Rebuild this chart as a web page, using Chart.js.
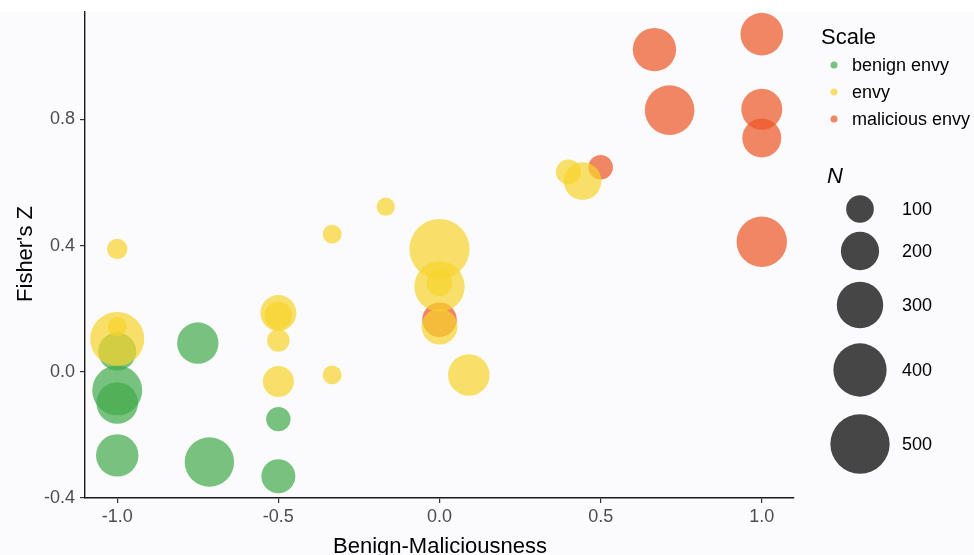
<!DOCTYPE html>
<html>
<head>
<meta charset="utf-8">
<script src="https://cdn.jsdelivr.net/npm/chart.js@4.4.1/dist/chart.umd.min.js"></script>
<style>
html,body{margin:0;padding:0;background:#ffffff;}
#wrap{width:974px;height:555px;position:relative;}
canvas{display:block;}
</style>
</head>
<body>
<div id="wrap"><canvas id="c" width="974" height="555"></canvas></div>
<script>
// ---------- data ----------
const xTicks = [-1.0, -0.5, 0.0, 0.5, 1.0];
const yTicks = [-0.4, 0.0, 0.4, 0.8];
const scaleNames = ['benign envy', 'envy', 'malicious envy'];
const sizeBreaks = [100, 200, 300, 400, 500];

const benignX = [-1.0, -1.0, -1.0, -1.0, -0.75, -0.714, -0.5, -0.5];
const benignY = [0.064, -0.059, -0.099, -0.265, 0.091, -0.286, -0.331, -0.150];
const benignN = [197, 350, 238, 248, 236, 342, 155, 76];

const envyX = [-1.0, -1.0, -1.0, -0.5, -0.5, -0.5, -0.5, -0.333, -0.167, -0.333, 0.0, 0.0, 0.0, 0.0, 0.091, 0.4, 0.444];
const envyY = [0.104, 0.143, 0.389, -0.031, 0.099, 0.186, 0.178, 0.436, 0.523, -0.010, 0.389, 0.270, 0.281, 0.143, -0.010, 0.633, 0.604];
const envyN = [412, 44, 51, 127, 63, 175, 100, 43, 40, 43, 515, 356, 84, 175, 238, 80, 193];

const maliciousX = [0.0, 0.5, 0.667, 0.714, 1.0, 1.0, 1.0, 1.0];
const maliciousY = [0.165, 0.648, 1.021, 0.829, 1.070, 0.832, 0.741, 0.412];
const maliciousN = [161, 77, 260, 345, 251, 231, 208, 356];

// ---------- styling ----------
const colors = ['rgba(64,170,72,0.7)', 'rgba(246,211,42,0.7)', 'rgba(236,84,36,0.7)'];
const rOf = n => 1.07 + 1.278 * Math.sqrt(n);
const pts = (xs, ys, ns) => xs.map((x, i) => ({x: x, y: ys[i], r: rOf(ns[i])}));
const FONT = '"Liberation Sans", Arial, sans-serif';

const bgPlugin = {
  id: 'bg',
  beforeDraw(chart) {
    const ctx = chart.ctx;
    ctx.save();
    ctx.fillStyle = '#ffffff';
    ctx.fillRect(0, 0, chart.width, chart.height);
    ctx.fillStyle = '#fbfbfd';
    ctx.fillRect(0, 12, chart.width, chart.height - 12);
    ctx.restore();
  }
};

const decoPlugin = {
  id: 'deco',
  afterDraw(chart) {
    const ctx = chart.ctx;
    ctx.save();
    // axis titles
    ctx.fillStyle = '#000';
    ctx.font = '22px ' + FONT;
    ctx.textAlign = 'center';
    ctx.textBaseline = 'alphabetic';
    ctx.fillText('Benign-Maliciousness', 440, 553);
    ctx.save();
    ctx.translate(32, 254);
    ctx.rotate(-Math.PI / 2);
    ctx.fillText("Fisher's Z", 0, 0);
    ctx.restore();

    // colour legend
    ctx.textAlign = 'left';
    ctx.textBaseline = 'middle';
    ctx.font = '22px ' + FONT;
    ctx.fillText('Scale', 821, 38);
    ctx.font = '18px ' + FONT;
    const itemY = [65, 92, 119];
    scaleNames.forEach((name, i) => {
      ctx.fillStyle = colors[i];
      ctx.beginPath();
      ctx.arc(834, itemY[i], 3.5, 0, Math.PI * 2);
      ctx.fill();
      ctx.fillStyle = '#000';
      ctx.fillText(name, 852, itemY[i] + 1);
    });

    // size legend
    ctx.font = 'italic 22px ' + FONT;
    ctx.fillText('N', 827, 177);
    const sizeY = [209, 251, 305, 370, 444];
    ctx.font = '18px ' + FONT;
    sizeBreaks.forEach((n, i) => {
      ctx.fillStyle = '#464646';
      ctx.beginPath();
      ctx.arc(860, sizeY[i], rOf(n), 0, Math.PI * 2);
      ctx.fill();
      ctx.fillStyle = '#000';
      ctx.fillText(String(n), 902, sizeY[i] + 1);
    });
    ctx.restore();
  }
};

new Chart(document.getElementById('c'), {
  type: 'bubble',
  data: {
    datasets: [
      {label: scaleNames[0], data: pts(benignX, benignY, benignN), backgroundColor: colors[0], borderWidth: 0, order: 3, clip: false},
      {label: scaleNames[1], data: pts(envyX, envyY, envyN), backgroundColor: colors[1], borderWidth: 0, order: 1, clip: false},
      {label: scaleNames[2], data: pts(maliciousX, maliciousY, maliciousN), backgroundColor: colors[2], borderWidth: 0, order: 2, clip: false}
    ]
  },
  options: {
    responsive: false,
    animation: false,
    events: [],
    layout: {autoPadding: false, padding: {top: 12, right: 180, left: 0, bottom: 0}},
    plugins: {legend: {display: false}, tooltip: {enabled: false}, title: {display: false}},
    scales: {
      x: {
        type: 'linear', min: -1.1, max: 1.1,
        afterBuildTicks: s => { s.ticks = xTicks.map(v => ({value: v})); },
        afterFit: s => { s.height = 57; s.paddingLeft = 0; s.paddingRight = 0; },
        grid: {display: true, drawOnChartArea: false, drawTicks: true, tickLength: 5, tickColor: '#333', lineWidth: 1.2},
        border: {display: true, color: '#1a1a1a', width: 1.4},
        ticks: {color: '#4d4d4d', font: {size: 18, family: FONT}, padding: 3, maxRotation: 0,
                callback: v => Number(v).toFixed(1)}
      },
      y: {
        type: 'linear', min: -0.4, max: 1.14,
        afterBuildTicks: s => { s.ticks = yTicks.map(v => ({value: v})); },
        afterFit: s => { s.width = 85; s.paddingTop = 0; s.paddingBottom = 0; },
        grid: {display: true, drawOnChartArea: false, drawTicks: true, tickLength: 5, tickColor: '#333', lineWidth: 1.2},
        border: {display: true, color: '#1a1a1a', width: 1.4},
        ticks: {color: '#4d4d4d', font: {size: 18, family: FONT}, padding: 5,
                callback: v => Number(v).toFixed(1)}
      }
    }
  },
  plugins: [bgPlugin, decoPlugin]
});
</script>
</body>
</html>
